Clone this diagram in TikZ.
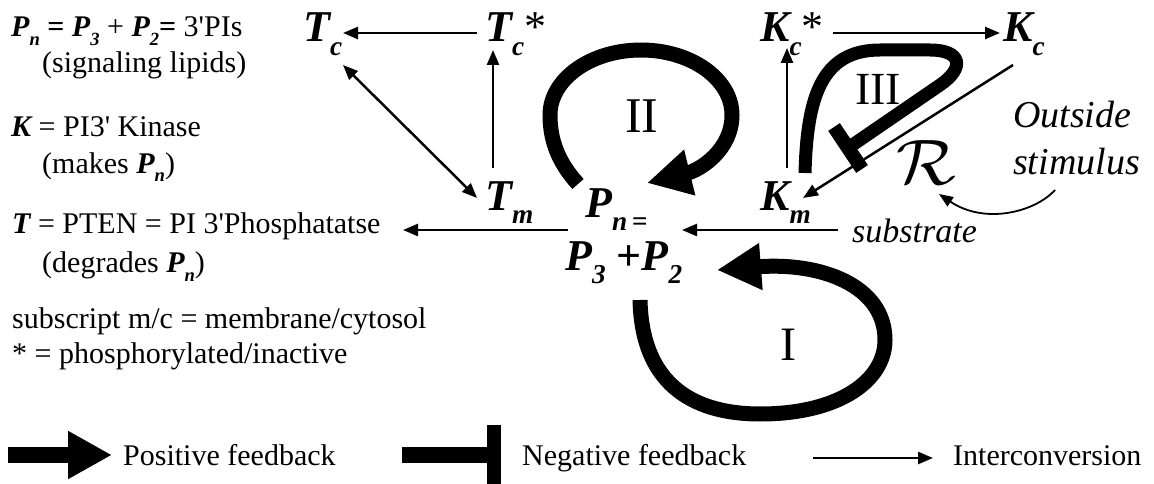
\documentclass[tikz,border=0pt]{standalone}
\usepackage{fontspec}
\setmainfont{Liberation Serif}
\usetikzlibrary{arrows.meta}
\newcommand{\bfit}[1]{{\bfseries\itshape #1}}
\newcommand{\vsb}[1]{\raisebox{-0.3em}{\scalebox{0.62}{\bfseries\itshape #1}}}
\newcommand{\fs}[1]{\fontsize{#1}{#1}\selectfont}
\begin{document}
\begin{tikzpicture}[x=1pt,y=-1pt,
  lbl/.style={inner sep=0pt, anchor=base west},
  legtxt/.style={lbl, font=\fs{30}},
  big/.style={lbl, font=\fs{44}\bfseries\itshape},
  roman/.style={lbl},
  ital/.style={lbl, font=\itshape},
  thinarr/.style={line width=2.5pt, -{Triangle[length=15pt,width=12pt]}},
  fat/.style={line width=15pt},
  fathead/.style={fat, -{Triangle[length=44pt,width=44pt]}},
]
\useasboundingbox (0,0) rectangle (1154,484);

% ---- legend text
\node[legtxt] (L1) at (11,37) {\bfit{P}\vsb{n} \textbf{=} \bfit{P}\vsb{3} + \bfit{P}\vsb{2}\textbf{=} 3\textquotesingle PIs};
\node[legtxt] (L2) at (42,73) {(signaling lipids)};
\node[legtxt] (L3) at (11,137) {\bfit{K} = PI3\textquotesingle{} Kinase};
\node[legtxt] (L4) at (42,173) {(makes \bfit{P}\vsb{n})};
\node[legtxt] (L5) at (12,233) {\bfit{T} = PTEN = PI 3\textquotesingle Phosphatatse};
\node[legtxt] (L6) at (42,272) {(degrades \bfit{P}\vsb{n})};
\node[legtxt] (L7) at (12,328) {subscript m/c = membrane/cytosol};
\node[legtxt] (L8) at (12,363) {* = phosphorylated/inactive};

% ---- species
\node[big] (Tc)  at (303,42)  {T\vsb{c}};
\node[big] (Tcs) at (485,42)  {T\vsb{c}{\upshape\mdseries *}};
\node[big] (Tm)  at (485,210) {T\vsb{m}};
\node[big] (Kcs) at (760,42)  {K\vsb{c}{\upshape\mdseries *}};
\node[big] (Kc)  at (1003,42) {K\vsb{c}};
\node[big] (Km)  at (760,210) {K\vsb{m}};
\node[big] (Pn)  at (585,217) {P\vsb{n\,=}};
\node[big] (Pt)  at (565,270) {P\vsb{3} {\upshape +}P\vsb{2}};

% ---- loop labels
\node[roman, font=\fs{50}] (lII)  at (625,133) {II};
\node[roman, font=\fs{46}] (lIII) at (855,105) {III};
\node[roman, font=\fs{48}] (lI)   at (780,360) {I};

% ---- other labels
\node[ital, font=\fs{38}\itshape] (out1) at (1013,128) {Outside};
\node[ital, font=\fs{38}\itshape] (out2) at (1013,175) {stimulus};
\node[ital, font=\fs{34}\itshape] (subs) at (852,242) {substrate};
\node[lbl, font=\fs{20}] (R) at (896,185) {\scalebox{3.4}[3.1]{$\mathcal{R}$}};

% ---- connector end points
\coordinate (TcsW) at (477,33);   \coordinate (TcE) at (343,33);
\coordinate (TmN)  at (493,168);  \coordinate (TcsS) at (493,50);
\coordinate (TcSE) at (343,65);   \coordinate (TmNW) at (477,198);
\coordinate (PnW)  at (568,230);  \coordinate (degr) at (403,230);
\coordinate (subW) at (838,230);  \coordinate (PnE) at (682,230);
\coordinate (KcsE) at (833,33);   \coordinate (KcW) at (1000,33);
\coordinate (KmN)  at (787,168);  \coordinate (KcsS) at (787,48);
\coordinate (KcSW) at (1013,65);  \coordinate (KmNE) at (803,198);
\coordinate (stim) at (1055,190); \coordinate (Rtip) at (939,194);

% ---- interconversions
\draw[thinarr] (TcsW) -- (TcE);
\draw[thinarr] (TmN) -- (TcsS);
\draw[line width=2.5pt, {Triangle[length=15pt,width=12pt]}-{Triangle[length=15pt,width=12pt]}] (TcSE) -- (TmNW);
\draw[thinarr] (PnW) -- (degr);
\draw[thinarr] (subW) -- (PnE);
\draw[thinarr] (KcsE) -- (KcW);
\draw[thinarr] (KmN) -- (KcsS);
\draw[thinarr] (KcSW) -- (KmNE);
\draw[line width=1.8pt, -{Triangle[length=14pt,width=11pt]}] (stim) .. controls (1035,212) and (985,225) .. (Rtip);

% ---- feedback loops
\coordinate (IIs) at (578,184);  \coordinate (IIt) at (647,183);
\draw[fathead] (IIs) .. controls (558,162) and (550,140) .. (550,115)
  .. controls (550,79) and (591,50) .. (641,50)
  .. controls (691,50) and (732,79) .. (732,115)
  .. controls (732,150) and (700,170) .. (IIt);

\coordinate (Is) at (640,300);  \coordinate (It) at (717,270);
\draw[fathead] (Is) .. controls (642,390) and (700,414) .. (760,414)
  .. controls (840,414) and (885,380) .. (885,340)
  .. controls (885,285) and (820,262) .. (It);

\coordinate (IIIs) at (805,173); \coordinate (IIIe) at (848,148);
\draw[line width=13pt] (IIIs) .. controls (807,100) and (820,50) .. (880,50)
  -- (930,50) .. controls (962,50) and (965,68) .. (940,85) -- (IIIe);
\draw[line width=14pt] (834,127) -- (862,169);

% ---- bottom legend
\coordinate (p1) at (8,455);   \coordinate (p2) at (112,455);
\draw[line width=16pt, -{Triangle[length=44pt,width=45pt]}] (p1) -- (p2);
\node[legtxt] (posT) at (123,465) {Positive feedback};
\coordinate (n1) at (402,455); \coordinate (n2) at (488,455);
\draw[line width=16pt] (n1) -- (n2);
\draw[line width=14pt] (494,425) -- (494,484);
\node[legtxt] (negT) at (522,465) {Negative feedback};
\coordinate (i1) at (813,458); \coordinate (i2) at (933,458);
\draw[thinarr] (i1) -- (i2);
\node[legtxt] (intT) at (953,465) {Interconversion};
\end{tikzpicture}
\end{document}
